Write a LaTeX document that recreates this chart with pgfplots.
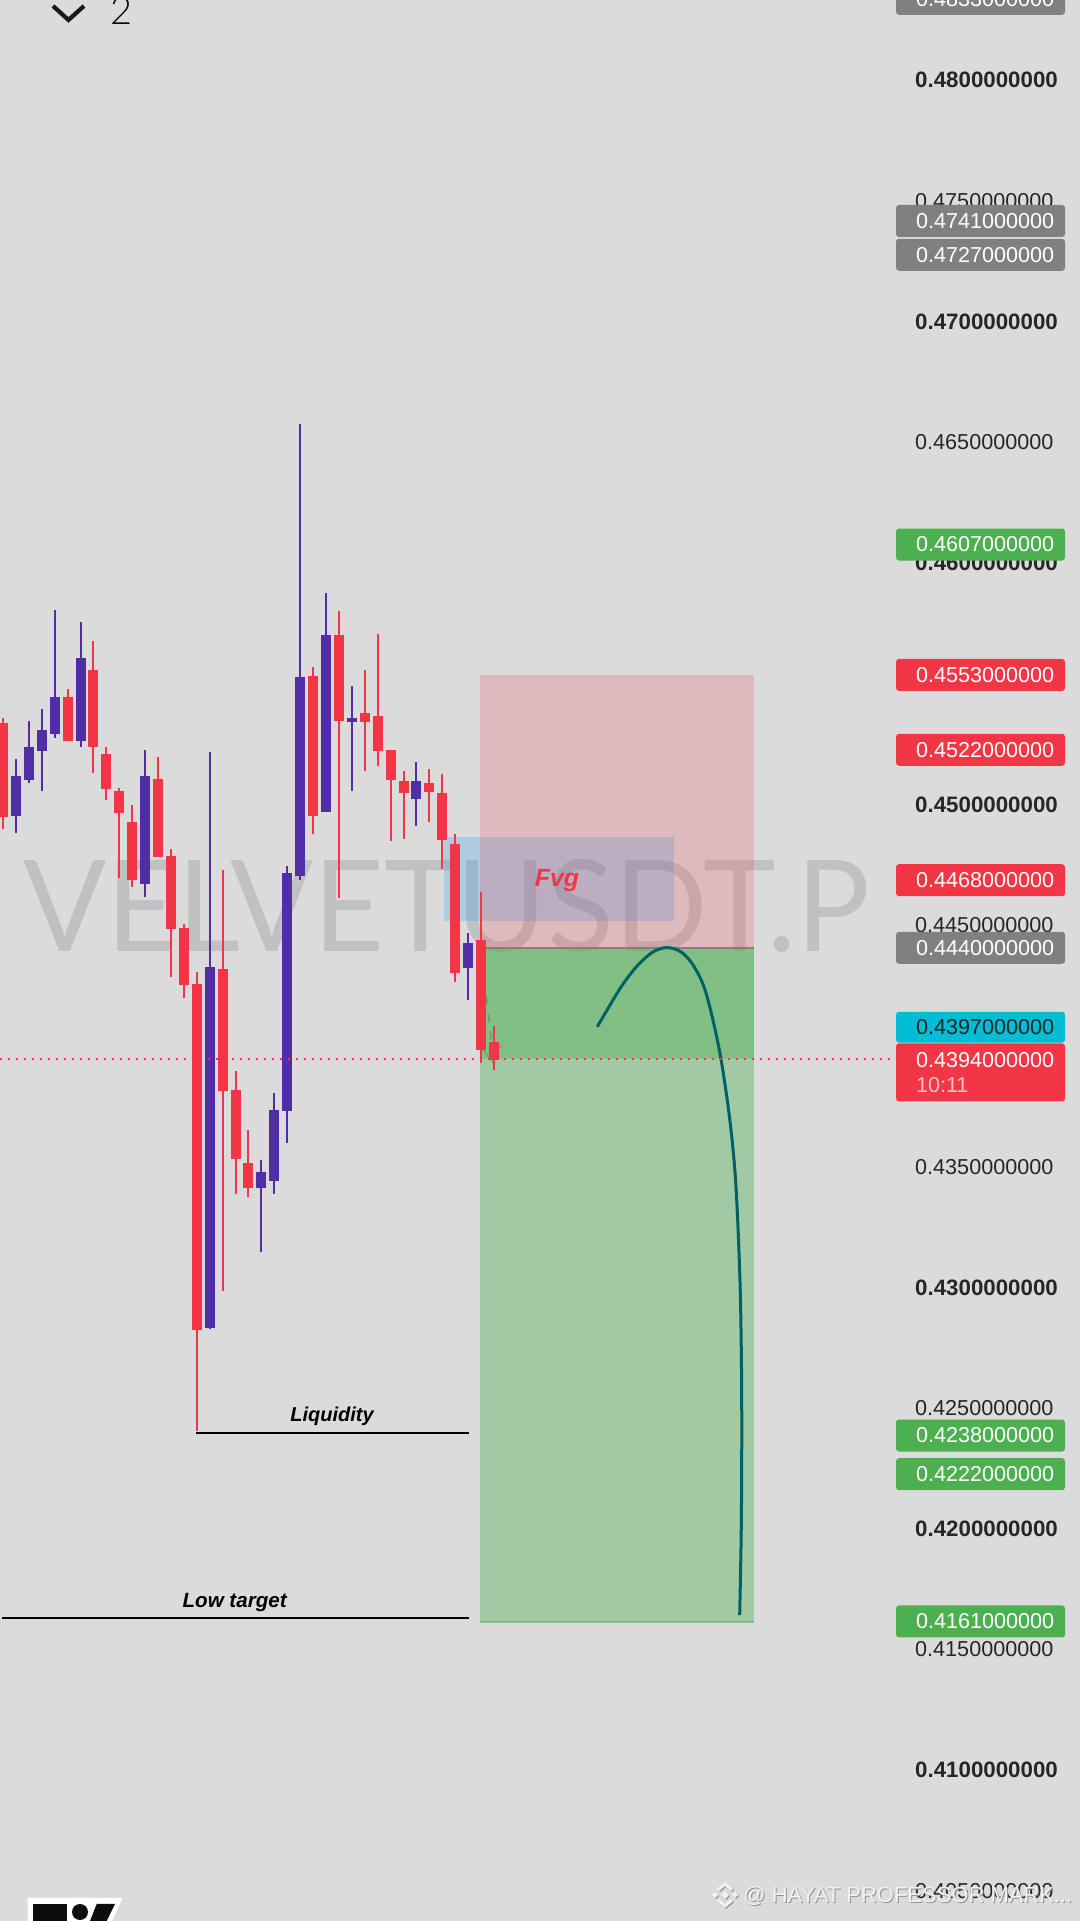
\documentclass[border=0pt]{standalone}
\usepackage{pgfplots}
\usepackage{pgfplotstable}
\usepackage{fontspec}
\pgfplotsset{compat=1.18}
\setmainfont{Liberation Sans}
\newfontfamily\lightf{Lato Light}
\newfontfamily\wmf{Lato}
\newcommand\bl[1]{{\fontsize{11.15}{12.5}\selectfont\bfseries #1}}

\definecolor{bgc}{RGB}{219,219,219}
\definecolor{upc}{RGB}{81,45,168}
\definecolor{downc}{RGB}{242,54,69}
\definecolor{greenc}{RGB}{76,175,80}
\definecolor{grayc}{RGB}{128,128,128}
\definecolor{cyanc}{RGB}{0,188,212}
\definecolor{curvec}{RGB}{0,96,100}
\definecolor{wmc}{RGB}{192,193,194}
\definecolor{bluec}{RGB}{33,150,243}

% candles: x high top bottom low
\pgfplotstableread{
x hi top bot lo
0 .45358 .45339 .44946 .44900
5 .45478 .45445 .45263 .45263
7 .45677 .45557 .45236 .45128
8 .45238 .45209 .45064 .45020
9 .45068 .45056 .44964 .44697
10 .44998 .44927 .44685 .44659
12 .45196 .45105 .44782 .44782
13 .44815 .44786 .44484 .44285
14 .44505 .44488 .44252 .44198
15 .44306 .44256 .42825 .42407
17 .44728 .44318 .43813 .42985
18 .43896 .43817 .43532 .43387
19 .43652 .43515 .43411 .43374
24 .45569 .45532 .44954 .44879
26 .45801 .45700 .45345 .44612
28 .45557 .45379 .45341 .45138
29 .45706 .45366 .45223 .45157
30 .45225 .45225 .45101 .44850
31 .45138 .45097 .45046 .44857
33 .45147 .45087 .45051 .44927
34 .45126 .45047 .44853 .44732
35 .44878 .44836 .44302 .44264
37 .44637 .44439 .43983 .43929
38 .44084 .44016 .43943 .43900
}\downcandles
\pgfplotstableread{
x hi top bot lo
1 .45188 .45118 .44952 .44880
2 .45345 .45238 .45101 .45090
3 .45395 .45308 .45221 .45057
4 .45806 .45445 .45292 .45275
6 .45755 .45608 .45263 .45239
11 .45225 .45118 .44670 .44617
16 .45217 .44327 .42832 .42828
20 .43527 .43478 .43411 .43146
21 .43805 .43734 .43440 .43387
22 .44745 .44716 .43732 .43598
23 .46575 .45528 .44704 .44687
25 .45876 .45700 .44969 .44969
27 .45490 .45358 .45341 .45057
32 .45176 .45097 .45024 .44909
36 .44467 .44426 .44323 .44188
}\upcandles

\pgfplotsset{
  wick/.style={draw=none, mark=none, forget plot, error bars/.cd, y dir=minus, y explicit,
    error mark=none, error bar style={#1, line width=1pt}},
  body/.style={draw=none, mark=none, forget plot, error bars/.cd, y dir=minus, y explicit,
    error mark=none, error bar style={#1, line width=5pt}},
  tag/.style={only marks, mark=none, forget plot, point meta=explicit symbolic,
    nodes near coords={\hspace*{10pt}\pgfplotspointmeta},
    nodes near coords style={anchor=center, fill=#1, text=white, inner sep=0pt,
      text width=84.5pt, minimum height=16pt, align=left, rounded corners=1.5pt,
      font=\fontsize{10.8}{12.5}\selectfont, yshift=.75pt}},
}

\begin{document}
\begin{tikzpicture}
\path[use as bounding box, fill=bgc] (0,0) rectangle (540pt,960.5pt);
\begin{scope}[x=.5pt,y=-.5pt,yshift=960.5pt]
  % symbol watermark
  \node[anchor=south west, inner sep=0pt, text=wmc] at (23,952.5)
    {\resizebox{423pt}{46pt}{\wmf VELVETUSDT.P}};
\end{scope}

\begin{axis}[
  at={(0,0)}, anchor=south west, scale only axis,
  width=540pt, height=960.5pt,
  xmin=-0.232, xmax=83.36, ymin=.403759, ymax=.483313,
  clip=false,
  axis line style={draw=none},
  tick style={draw=none},
  major tick length=0pt,
  xtick=\empty,
  ytick={.48,.475,.47,.465,.46,.45,.445,.435,.43,.425,.42,.415,.41,.405},
  yticklabels={\bl{0.4800000000},0.4750000000,\bl{0.4700000000},0.4650000000,\bl{0.4600000000},
    \bl{0.4500000000},0.4450000000,0.4350000000,\bl{0.4300000000},
    0.4250000000,\bl{0.4200000000},0.4150000000,\bl{0.4100000000},0.4050000000},
  yticklabel pos=right,
  yticklabel style={anchor=west, xshift=-82.6pt, inner xsep=0pt, text=black!85,
    font=\fontsize{10.8}{12.5}\selectfont},
  scaled y ticks=false,
]
% fvg box and position boxes
\addplot[fill=bluec, fill opacity=.23, draw=none, forget plot]
  coordinates {(34.13,.44866) (51.9,.44866) (51.9,.44518) (34.13,.44518)} --cycle;
\addplot[fill=downc, fill opacity=.2, draw=none, forget plot]
  coordinates {(36.92,.45536) (58.13,.45536) (58.13,.44407) (36.92,.44407)} --cycle;
\addplot[fill=greenc, fill opacity=.4, draw=none, forget plot]
  coordinates {(36.92,.44407) (58.13,.44407) (58.13,.41614) (36.92,.41614)} --cycle;
\addplot[fill=greenc, fill opacity=.36, draw=none, forget plot]
  coordinates {(36.92,.44407) (58.13,.44407) (58.13,.43946) (36.92,.43946)} --cycle;
\addplot[grayc, line width=1pt, forget plot] coordinates {(36.92,.44407) (58.13,.44407)};
\addplot[greenc, opacity=.5, line width=.6pt, forget plot] coordinates {(36.92,.41614) (58.13,.41614)};

% dashed path into the last candle
\addplot[grayc, opacity=.7, line width=.9pt, dash pattern=on 4pt off 5pt, forget plot]
  coordinates {(37.4,.44207) (37.6,.44115) (37.95,.43965)};
\addplot[grayc, opacity=.7, line width=.7pt, forget plot]
  coordinates {(37.15,.43985) (37.9,.43935) (38.55,.44005)};

% candles
\addplot[wick=downc] table[x=x, y=hi, y error expr=\thisrow{hi}-\thisrow{lo}] {\downcandles};
\addplot[body=downc] table[x=x, y=top, y error expr=\thisrow{top}-\thisrow{bot}] {\downcandles};
\addplot[wick=upc] table[x=x, y=hi, y error expr=\thisrow{hi}-\thisrow{lo}] {\upcandles};
\addplot[body=upc] table[x=x, y=top, y error expr=\thisrow{top}-\thisrow{bot}] {\upcandles};

% hand drawn curve
\addplot[curvec, line width=1.5pt, smooth, tension=.55, forget plot] coordinates {
  (46.0,.44079) (46.98,.44169) (47.99,.44256) (49.15,.44335) (50.31,.44389) (51.39,.44407)
  (52.48,.44389) (53.41,.44335) (54.26,.44244) (54.95,.44107) (55.53,.43958) (56.0,.43797)
  (56.39,.43631) (56.7,.43445) (56.93,.43196) (57.08,.42948) (57.16,.42658) (57.18,.42368)
  (57.14,.41995) (57.02,.41643)};

% liquidity and target levels
\addplot[black, line width=.8pt, forget plot] coordinates {(14.94,.42397) (36.07,.42397)};
\addplot[black, line width=.8pt, forget plot] coordinates {(-0.04,.41631) (36.07,.41631)};
\node[font=\fontsize{10}{12}\selectfont\bfseries\itshape] at (axis cs:25.47,.42465) {Liquidity};
\node[font=\fontsize{10.3}{12}\selectfont\bfseries\itshape] at (axis cs:17.93,.41695) {Low target};
\node[font=\fontsize{12.4}{14}\selectfont\bfseries\itshape, text=downc] at (axis cs:42.88,.44685) {Fvg};

% last price line
\addplot[downc, line width=1pt, dash pattern=on 1pt off 3pt, forget plot] coordinates {(-0.23,.43946) (68.9,.43946)};

% price tags
\addplot[tag=grayc] coordinates {(75.66,.4833) [0.4833000000] (75.66,.4741) [0.4741000000]
  (75.66,.4727) [0.4727000000] (75.66,.4440) [0.4440000000]};
\addplot[tag=greenc] coordinates {(75.66,.4607) [0.4607000000] (75.66,.4238) [0.4238000000]
  (75.66,.4222) [0.4222000000] (75.66,.4161) [0.4161000000]};
\addplot[tag=downc] coordinates {(75.66,.4553) [0.4553000000] (75.66,.4522) [0.4522000000]
  (75.66,.4468) [0.4468000000]};
\addplot[tag=cyanc, nodes near coords style={text=black!85, yshift=12.2pt, minimum height=15.4pt}] coordinates {(75.66,.4397) [0.4397000000]};
\addplot[tag=downc, nodes near coords={\hspace*{10pt}\pgfplotspointmeta\\\hspace*{10pt}\textcolor{white!70!downc}{10:11}},
  nodes near coords style={minimum height=29pt, yshift=-6.75pt}] coordinates {(75.66,.4394) [0.4394000000]};
\end{axis}

\begin{scope}[x=.5pt,y=-.5pt,yshift=960.5pt]
  % collapse arrow and pane number
  \draw[black!90, line width=2.1pt] (53,6) -- (68.5,20) -- (84,6);
  \node[anchor=base west, inner sep=0pt, font=\fontsize{19}{19}\selectfont\lightf, text=black!95] at (110,25) {2};
  % logo, cut by the page edge
  \fill[white] (27.7,1898) -- (122.7,1898) -- (112,1921) -- (27.7,1921) -- cycle;
  \fill[black!95] (32.7,1904) -- (67.3,1904) -- (67.3,1921) -- (32.7,1921) -- cycle;
  \fill[black!95] (80,1912) circle[radius=8];
  \fill[black!95] (96.7,1904) -- (115,1904) -- (106.7,1921) -- (90,1921) -- cycle;
  % share watermark
  \foreach \dx/\c in {1/gray!85, 0/white!95!black} {
    \begin{scope}[xshift=\dx*.5pt, yshift=-\dx*.5pt]
      \draw[\c, line width=1.5pt] (718,1890) -- (725,1884) -- (732,1890);
      \draw[\c, line width=1.5pt] (718,1900) -- (725,1906) -- (732,1900);
      \fill[\c] (725,1891) -- (729,1895) -- (725,1899) -- (721,1895) -- cycle;
      \fill[\c] (715,1892) -- (718,1895) -- (715,1898) -- (712,1895) -- cycle;
      \fill[\c] (735,1892) -- (738,1895) -- (735,1898) -- (732,1895) -- cycle;
      \node[anchor=west, inner sep=0pt, text=\c] at (743,1896)
        {\resizebox{164.5pt}{!}{\fontsize{12}{14}\selectfont @ HAYAT PROFESSOR MARK...}};
    \end{scope}
  }
\end{scope}
\end{tikzpicture}
\end{document}
